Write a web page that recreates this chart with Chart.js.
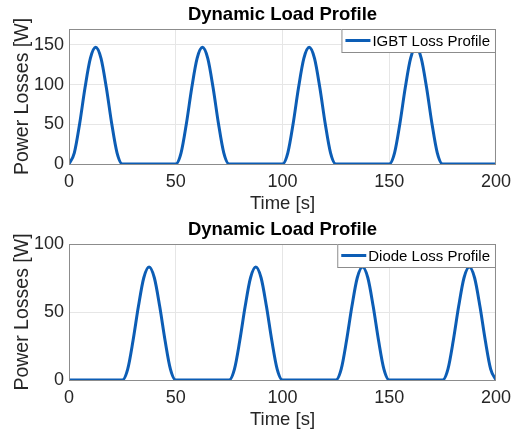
<!DOCTYPE html>
<html>
<head>
<meta charset="utf-8">
<script src="https://cdn.jsdelivr.net/npm/chart.js@4.4.0/dist/chart.umd.min.js"></script>
<style>
	body { margin: 0; background: #fff; }
	.box { position: absolute; left: 0; width: 518px; }
</style>
</head>
<body>
<div class="box" style="top:0;height:215px"><canvas id="chartTop" width="518" height="215"></canvas></div>
<div class="box" style="top:215px;height:216px"><canvas id="chartBottom" width="518" height="216"></canvas></div>
<script>
// time samples [s]
var time = [0,2.5,5,7.5,10,12.5,15,17.5,20,22.5,25,27.5,30,32.5,35,37.5,40,42.5,45,47.5,
	50,52.5,55,57.5,60,62.5,65,67.5,70,72.5,75,77.5,80,82.5,85,87.5,90,92.5,95,97.5,
	100,102.5,105,107.5,110,112.5,115,117.5,120,122.5,125,127.5,130,132.5,135,137.5,140,142.5,145,147.5,
	150,152.5,155,157.5,160,162.5,165,167.5,170,172.5,175,177.5,180,182.5,185,187.5,190,192.5,195,197.5,200];

// IGBT losses [W]
var igbtLoss = [0,14,51,96,133,147,133,96,51,14, 0,0,0,0,0,0,0,0,0,0,
	0,14,51,96,133,147,133,96,51,14, 0,0,0,0,0,0,0,0,0,0,
	0,14,51,96,133,147,133,96,51,14, 0,0,0,0,0,0,0,0,0,0,
	0,14,51,96,133,147,133,96,51,14, 0,0,0,0,0,0,0,0,0,0, 0];

// Diode losses [W]
var diodeLoss = [0,0,0,0,0,0,0,0,0,0, 0,8,29,54,75,83,75,54,29,8,
	0,0,0,0,0,0,0,0,0,0, 0,8,29,54,75,83,75,54,29,8,
	0,0,0,0,0,0,0,0,0,0, 0,8,29,54,75,83,75,54,29,8,
	0,0,0,0,0,0,0,0,0,0, 0,8,29,54,75,83,75,54,29,8, 0];

var xTicks = [0,50,100,150,200];
var yTicksTop = [0,50,100,150];
var yTicksBottom = [0,50,100];

var lineColor = '#0c5db5';
var textColor = '#262626';
var fontName = 'Liberation Sans, Arial, sans-serif';

// frame, title and legend drawn matlab style
var matlabBox = {
	id: 'matlabBox',
	afterDraw: function(chart){
		var ctx = chart.ctx;
		var a = chart.chartArea;
		var o = chart.options.plugins.matlabBox;
		ctx.save();
		ctx.strokeStyle = '#8c8c8c';
		ctx.lineWidth = 1;
		ctx.strokeRect(a.left + 0.5, a.top + 0.5, a.right - a.left - 1, a.bottom - a.top);

		ctx.fillStyle = '#000';
		ctx.font = 'bold 18.5px ' + fontName;
		ctx.textAlign = 'center';
		ctx.textBaseline = 'middle';
		ctx.fillText(o.title, (a.left + a.right) / 2, 15);

		ctx.font = '15px ' + fontName;
		var tw = ctx.measureText(o.label).width;
		var w = tw + 36, h = 23;
		var x0 = a.right - w - 1, y0 = a.top;
		ctx.fillStyle = '#fff';
		ctx.fillRect(x0, y0, w, h);
		ctx.strokeStyle = '#8c8c8c';
		ctx.strokeRect(x0 + 0.5, y0 + 0.5, w, h);
		ctx.strokeStyle = lineColor;
		ctx.lineWidth = 3;
		ctx.beginPath();
		ctx.moveTo(x0 + 4, y0 + h / 2);
		ctx.lineTo(x0 + 29, y0 + h / 2);
		ctx.stroke();
		ctx.fillStyle = '#000';
		ctx.textAlign = 'left';
		ctx.fillText(o.label, x0 + 31, y0 + h / 2 + 1);
		ctx.restore();
	}
};

function makeChart(id, values, yMax, yTicks, label){
	var pts = [];
	for (var i = 0; i < time.length; i++) pts.push({x: time[i], y: values[i]});
	return new Chart(document.getElementById(id), {
		type: 'line',
		data: {
			datasets: [{
				label: label,
				data: pts,
				borderColor: lineColor,
				borderWidth: 3,
				pointRadius: 0,
				cubicInterpolationMode: 'monotone',
				fill: false
			}]
		},
		options: {
			responsive: false,
			animation: false,
			layout: { padding: { top: 29, right: 20, left: 0, bottom: 0 } },
			plugins: {
				legend: { display: false },
				tooltip: { enabled: false },
				matlabBox: { title: 'Dynamic Load Profile', label: label }
			},
			scales: {
				x: {
					type: 'linear', min: 0, max: 200,
					afterBuildTicks: function(s){ s.ticks = xTicks.map(function(v){ return {value: v}; }); },
					afterFit: function(s){ s.height = 51; },
					grid: { color: '#e6e6e6', drawTicks: false },
					border: { display: false },
					ticks: { color: textColor, font: { size: 18, family: fontName }, padding: 7, maxRotation: 0 },
					title: { display: true, text: 'Time [s]', color: textColor, font: { size: 18.5, family: fontName }, padding: { top: 0, bottom: 0 } }
				},
				y: {
					min: 0, max: yMax,
					afterBuildTicks: function(s){ s.ticks = yTicks.map(function(v){ return {value: v}; }); },
					afterFit: function(s){ s.width = 69; },
					grid: { color: '#e6e6e6', drawTicks: false },
					border: { display: false },
					ticks: { color: textColor, font: { size: 18, family: fontName }, padding: 5 },
					title: { display: true, text: 'Power Losses [W]', color: textColor, font: { size: 19.5, family: fontName }, padding: { top: 11, bottom: 0 } }
				}
			}
		},
		plugins: [matlabBox]
	});
}

makeChart('chartTop', igbtLoss, 170, yTicksTop, 'IGBT Loss Profile');
makeChart('chartBottom', diodeLoss, 100, yTicksBottom, 'Diode Loss Profile');
</script>
</body>
</html>
